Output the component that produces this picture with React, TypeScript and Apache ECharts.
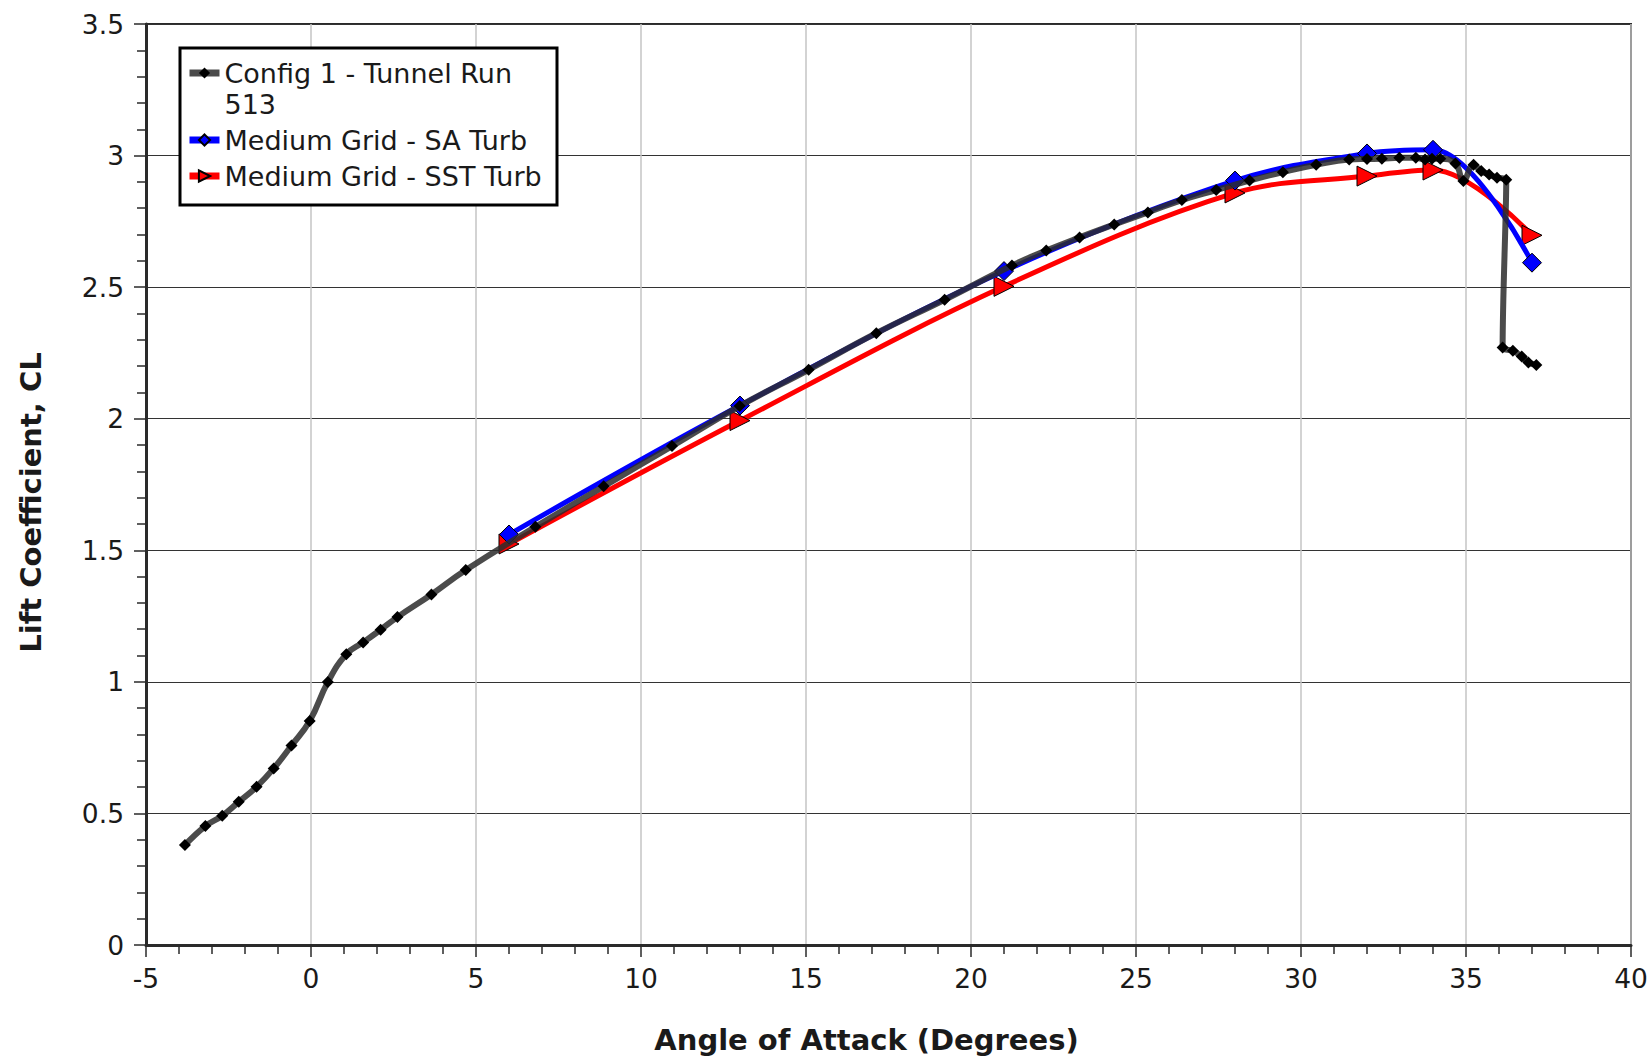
import React, { useEffect, useRef } from "react";
import * as echarts from "echarts";

// ---- Data ----
const alphaTunnel = [
  -3.82, -3.2, -2.69, -2.19, -1.65, -1.13, -0.59, -0.04, 0.51, 1.07, 1.58, 2.11, 2.62, 3.65, 4.69,
  6.8, 8.87, 10.94, 12.99, 15.08, 17.13, 19.2, 21.24, 22.28, 23.29, 24.34, 25.36, 26.39, 27.43,
  28.44, 29.45, 30.46, 31.46, 32.0, 32.45, 32.98, 33.48, 33.76, 33.97, 34.22, 34.68, 34.92, 35.23,
  35.46, 35.7, 35.94, 36.22, 36.11, 36.42, 36.69, 36.89, 37.13,
];
const clTunnel = [
  0.38, 0.452, 0.491, 0.544, 0.601, 0.671, 0.758, 0.851, 0.999, 1.105, 1.15, 1.198, 1.246, 1.332,
  1.425, 1.589, 1.743, 1.896, 2.048, 2.186, 2.325, 2.452, 2.582, 2.639, 2.689, 2.738, 2.784, 2.831,
  2.869, 2.905, 2.937, 2.965, 2.985, 2.987, 2.988, 2.992, 2.992, 2.985, 2.988, 2.988, 2.97, 2.903,
  2.965, 2.941, 2.928, 2.916, 2.908, 2.271, 2.258, 2.236, 2.214, 2.204,
];
const alphaSA = [6, 13, 21, 28, 32, 34, 37];
const clSA = [1.56, 2.05, 2.561, 2.905, 3.008, 3.022, 2.593];
const alphaSST = [6, 13, 21, 28, 32, 34, 37];
const clSST = [1.524, 1.993, 2.503, 2.858, 2.922, 2.945, 2.697];

const seriesNames = ["Config 1 - Tunnel Run 513", "Medium Grid - SA Turb", "Medium Grid - SST Turb"];
const xTicks = { min: -5, max: 40, interval: 5 };
const yTicks = { min: 0, max: 3.5, interval: 0.5 };

const pairs = (xs: number[], ys: number[]) => xs.map((x, i) => [x, ys[i]]);

const FONT = "DejaVu Sans";

export default function App() {
  const ref = useRef<HTMLDivElement>(null);
  useEffect(() => {
    document.body.style.margin = "0";
    const chart = echarts.init(ref.current!, null, { renderer: "svg" });
    chart.setOption({
      animation: false,
      backgroundColor: "#ffffff",
      grid: {
        left: 146,
        right: 21,
        top: 24,
        bottom: 112,
        show: true,
        borderColor: "#2a2a2a",
        borderWidth: 2,
        backgroundColor: "transparent",
      },
      graphic: [
        {
          type: "rect",
          z: 3,
          shape: { x: 180, y: 48, width: 377, height: 157 },
          style: { fill: "#ffffff", stroke: "#000000", lineWidth: 3 },
        },
      ],
      legend: {
        orient: "vertical",
        left: 186,
        top: 26.5,
        padding: 0,
        itemWidth: 30,
        itemHeight: 14,
        itemGap: 5,
        z: 5,
        lineStyle: { width: 7 },
        textStyle: { fontFamily: FONT, fontSize: 27, lineHeight: 31, color: "#1a1a1a" },
        formatter: (name: string) =>
          name === seriesNames[0] ? "\nConfig 1 - Tunnel Run\n513" : name,
        data: seriesNames,
      },
      xAxis: {
        type: "value",
        min: xTicks.min,
        max: xTicks.max,
        interval: xTicks.interval,
        name: "Angle of Attack (Degrees)",
        nameLocation: "middle",
        nameGap: 80,
        nameTextStyle: {
          fontFamily: FONT,
          fontSize: 29,
          fontWeight: "bold",
          color: "#1a1a1a",
          padding: [0, 44, 0, 0],
        },
        axisLine: { show: true, onZero: false, lineStyle: { color: "#2a2a2a", width: 3 } },
        axisTick: { show: true, length: 12, lineStyle: { color: "#2a2a2a", width: 1.5 } },
        minorTick: { show: true, splitNumber: 5, length: 9, lineStyle: { color: "#2a2a2a", width: 1.5 } },
        axisLabel: { fontFamily: FONT, fontSize: 26.5, color: "#1a1a1a", margin: 20 },
        splitLine: { show: true, lineStyle: { color: "#c4c4c4", width: 1.5 } },
      },
      yAxis: {
        type: "value",
        min: yTicks.min,
        max: yTicks.max,
        interval: yTicks.interval,
        name: "Lift Coefficient, CL",
        nameLocation: "middle",
        nameGap: 101,
        nameTextStyle: {
          fontFamily: FONT,
          fontSize: 29,
          fontWeight: "bold",
          color: "#1a1a1a",
          padding: [0, 36, 0, 0],
        },
        axisLine: { show: true, onZero: false, lineStyle: { color: "#2a2a2a", width: 3 } },
        axisTick: { show: true, length: 12, lineStyle: { color: "#2a2a2a", width: 1.5 } },
        minorTick: { show: true, splitNumber: 5, length: 9, lineStyle: { color: "#2a2a2a", width: 1.5 } },
        axisLabel: { fontFamily: FONT, fontSize: 26.5, color: "#1a1a1a", margin: 22 },
        splitLine: { show: true, lineStyle: { color: "#333333", width: 1.2 } },
      },
      series: [
        {
          name: seriesNames[2],
          type: "line",
          data: pairs(alphaSST, clSST),
          smooth: 0.35,
          symbol: "triangle",
          symbolSize: 20,
          symbolRotate: -90,
          lineStyle: { color: "#ff0000", width: 5 },
          itemStyle: { color: "#ff0000", borderColor: "#000000", borderWidth: 1 },
          z: 2,
        },
        {
          name: seriesNames[1],
          type: "line",
          data: pairs(alphaSA, clSA),
          smooth: 0.35,
          symbol: "diamond",
          symbolSize: 19,
          lineStyle: { color: "#0000ff", width: 5 },
          itemStyle: { color: "#0000ff", borderColor: "#000000", borderWidth: 1 },
          z: 3,
        },
        {
          name: seriesNames[0],
          type: "line",
          data: pairs(alphaTunnel, clTunnel),
          smooth: 0.45,
          symbol: "diamond",
          symbolSize: 12,
          lineStyle: { color: "#2c2c2c", width: 6, opacity: 0.85 },
          itemStyle: { color: "#000000" },
          z: 4,
        },
      ],
    });
    return () => chart.dispose();
  }, []);
  return <div ref={ref} style={{ width: 1652, height: 1059 }} />;
}
